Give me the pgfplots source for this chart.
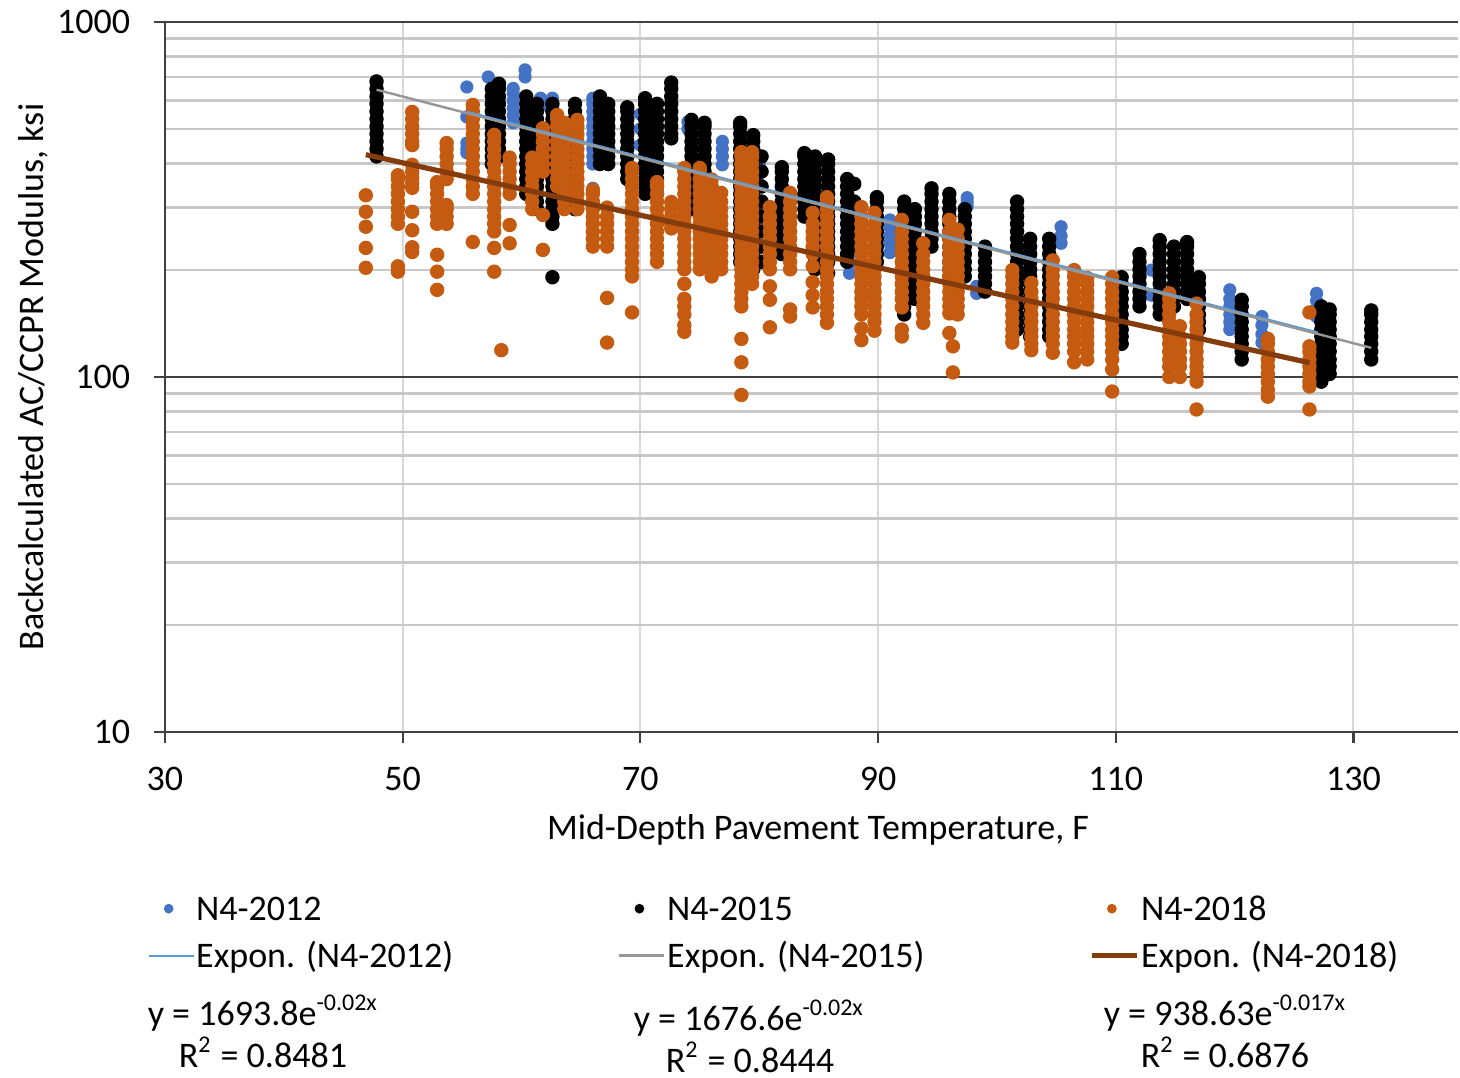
\documentclass[border=0pt]{standalone}
\usepackage{fontspec}
\setmainfont{Carlito}
\usepackage{pgfplots}
\pgfplotsset{compat=1.18}
\definecolor{cblue}{RGB}{68,114,196}
\definecolor{corange}{RGB}{197,90,17}
\definecolor{tblue}{RGB}{91,155,213}
\definecolor{tgrey}{RGB}{150,150,150}
\definecolor{tbrown}{RGB}{132,60,12}
\definecolor{axdark}{RGB}{64,64,64}
\definecolor{vgrid}{RGB}{217,217,217}
\definecolor{hgrid}{RGB}{200,200,200}
\pgfplotsset{
 dotleg/.style={legend image code/.code={\path[draw=none, fill=none] (0pt,-1pt) rectangle (11.25pt,1pt); \draw[##1, mark size=1pt] plot coordinates {(5pt,0pt)};}},
 lineleg/.style={legend image code/.code={\draw[##1] (0pt,0pt) -- (11.25pt,0pt);}},
}
\begin{document}
\begin{tikzpicture}[font=\fontsize{9}{11}\selectfont]
\begin{axis}[
 scale only axis, width=323.25pt, height=177.5pt,
 xmin=30, xmax=138.8, ymin=10, ymax=1000, ymode=log,
 axis x line*=bottom, axis y line*=left,
 axis line style={draw=axdark, line width=0.55pt},
 xtick={30,50,70,90,110,130}, xticklabels={30,50,70,90,110,130},
 ytick={10,100,1000}, yticklabels={10,100,1000},
 minor ytick={20,30,40,50,60,70,80,90,200,300,400,500,600,700,800,900},
 xmajorgrids, ymajorgrids, yminorgrids,
 major x grid style={draw=vgrid, line width=0.5pt},
 major y grid style={draw=axdark, line width=0.55pt},
 minor y grid style={draw=hgrid, line width=0.65pt},
 tick align=outside, major tick length=2.75pt, minor tick length=0pt,
 tick style={draw=axdark, line width=0.55pt},
 xticklabel style={anchor=center, inner sep=0pt, yshift=-9pt},
 yticklabel style={anchor=east, inner sep=0pt, xshift=-5.75pt},
 every axis x label/.style={at={(axis description cs:0.505,-0.138)}, anchor=center},
 every axis y label/.style={at={(axis description cs:-0.1021,0.5)}, anchor=center, rotate=90},
 xlabel={Mid-Depth Pavement Temperature, F},
 ylabel={Backcalculated AC/CCPR Modulus, ksi},
 clip mode=individual,
 legend columns=3,
 legend cell align=left,
 legend style={at={(axis description cs:0,0)}, anchor=north west, xshift=-4.5pt, yshift=-38.1pt,
   draw=none, fill=none, inner sep=0pt, row sep=0pt,
   nodes={inner xsep=0.4pt, inner ysep=0pt, text height=8.75pt, text depth=3pt},
   /tikz/column 2/.style={column sep=40.8pt}, /tikz/column 4/.style={column sep=40.8pt}},
]
% N4-2012
\addplot[only marks, mark=*, color=cblue, mark size=1.45pt, mark options={draw=none}, dotleg] coordinates {
(55.4,428)(55.4,440)(55.4,456)(55.4,540)(55.4,656)
(57.2,700)
(59.3,520)(59.3,545)(59.3,572)(59.3,600)(59.3,630)(59.3,650)
(60.3,700)(60.3,733)
(61.6,580)(61.6,610)(62.6,610)
(66.0,340)(66.0,398)(66.0,418)(66.0,439)(66.0,461)(66.0,484)(66.0,508)(66.0,533)(66.0,560)(66.0,588)(66.0,610)
(66.3,506)(66.3,540)(66.3,570)(66.3,603)
(70.0,450)(70.0,500)(70.0,550)
(74.0,500)(74.0,523)
(76.9,396)(76.9,418)(76.9,439)(76.9,461)
(80.0,300)(80.0,350)(80.0,400)
(84.5,280)(84.5,320)
(87.6,196)(87.6,209)(87.6,222)
(91.0,224)(91.0,238)(91.0,250)(91.0,264)(91.0,277)
(93.0,230)(93.0,270)
(97.5,302)(97.5,311)(97.5,320)
(98.3,172)(98.3,180)
(102.0,190)(102.0,230)
(105.4,238)(105.4,250)(105.4,265)
(113.0,170)(113.0,200)
(119.6,136)(119.6,143)(119.6,150)(119.6,158)(119.6,166)(119.6,176)
(122.3,125)(122.3,132)(122.3,140)(122.3,148)
(126.9,148)(126.9,156)(126.9,164)(126.9,172)
(128.0,125)(128.0,140)
};
\addlegendentry{N4-2012}
% N4-2015
\addplot[only marks, mark=*, color=black, mark size=1.6pt, mark options={draw=none}, dotleg] coordinates {
(47.8,418)(47.8,439)(47.8,461)(47.8,484)(47.8,508)(47.8,533)(47.8,560)(47.8,588)(47.8,617)(47.8,648)(47.8,680)
(57.5,398)(57.5,418)(57.5,439)(57.5,461)(57.5,484)(57.5,508)(57.5,533)(57.5,560)(57.5,588)(57.5,617)(57.5,648)
(58.1,418)(58.1,439)(58.1,461)(58.1,484)(58.1,508)(58.1,533)(58.1,560)(58.1,588)(58.1,617)(58.1,648)(58.1,670)
(60.4,328)(60.4,344)(60.4,361)(60.4,379)(60.4,398)(60.4,418)(60.4,439)(60.4,461)(60.4,484)(60.4,508)(60.4,533)(60.4,560)(60.4,588)(60.4,617)
(61.3,297)(61.3,312)(61.3,328)(61.3,344)(61.3,361)(61.3,379)(61.3,398)(61.3,418)(61.3,439)(61.3,461)(61.3,484)(61.3,508)(61.3,533)(61.3,560)(61.3,588)
(62.6,191)(62.6,270)(62.6,283)(62.6,297)(62.6,312)(62.6,328)(62.6,344)(62.6,361)(62.6,379)(62.6,398)(62.6,418)(62.6,439)(62.6,461)(62.6,484)(62.6,508)(62.6,533)(62.6,560)(62.6,588)
(64.5,297)(64.5,312)(64.5,328)(64.5,344)(64.5,361)(64.5,379)(64.5,398)(64.5,418)(64.5,439)(64.5,461)(64.5,484)(64.5,508)(64.5,533)(64.5,560)(64.5,588)
(66.6,398)(66.6,418)(66.6,439)(66.6,461)(66.6,484)(66.6,508)(66.6,533)(66.6,560)(66.6,588)(66.6,617)
(67.3,398)(67.3,418)(67.3,439)(67.3,461)(67.3,484)(67.3,508)(67.3,533)(67.3,560)(67.3,588)
(68.9,361)(68.9,379)(68.9,398)(68.9,418)(68.9,439)(68.9,461)(68.9,484)(68.9,508)(68.9,533)(68.9,560)(68.9,575)
(70.4,328)(70.4,344)(70.4,361)(70.4,379)(70.4,398)(70.4,418)(70.4,439)(70.4,461)(70.4,484)(70.4,508)(70.4,533)(70.4,560)(70.4,588)(70.4,610)
(71.4,328)(71.4,344)(71.4,361)(71.4,379)(71.4,398)(71.4,418)(71.4,439)(71.4,461)(71.4,484)(71.4,508)(71.4,533)(71.4,560)(71.4,588)
(72.6,470)(72.6,484)(72.6,508)(72.6,533)(72.6,560)(72.6,588)(72.6,617)(72.6,648)(72.6,675)
(74.3,297)(74.3,312)(74.3,328)(74.3,344)(74.3,361)(74.3,379)(74.3,398)(74.3,418)(74.3,439)(74.3,461)(74.3,484)(74.3,508)(74.3,530)
(75.4,283)(75.4,297)(75.4,312)(75.4,328)(75.4,344)(75.4,361)(75.4,379)(75.4,398)(75.4,418)(75.4,439)(75.4,461)(75.4,484)(75.4,508)(75.4,520)
(78.4,211)(78.4,222)(78.4,233)(78.4,245)(78.4,257)(78.4,270)(78.4,283)(78.4,297)(78.4,312)(78.4,328)(78.4,344)(78.4,361)(78.4,379)(78.4,398)(78.4,418)(78.4,439)(78.4,461)(78.4,484)(78.4,508)(78.4,520)
(79.5,201)(79.5,211)(79.5,222)(79.5,233)(79.5,245)(79.5,257)(79.5,270)(79.5,283)(79.5,297)(79.5,312)(79.5,328)(79.5,344)(79.5,361)(79.5,379)(79.5,398)(79.5,418)(79.5,439)(79.5,461)(79.5,480)
(80.2,211)(80.2,233)(80.2,257)(80.2,283)(80.2,312)(80.2,344)(80.2,379)(80.2,418)
(81.9,222)(81.9,233)(81.9,245)(81.9,257)(81.9,270)(81.9,283)(81.9,297)(81.9,312)(81.9,328)(81.9,344)(81.9,361)(81.9,379)(81.9,390)
(83.8,283)(83.8,297)(83.8,312)(83.8,328)(83.8,344)(83.8,361)(83.8,379)(83.8,398)(83.8,418)(83.8,427)
(84.7,201)(84.7,211)(84.7,222)(84.7,233)(84.7,245)(84.7,257)(84.7,270)(84.7,283)(84.7,297)(84.7,312)(84.7,328)(84.7,344)(84.7,361)(84.7,379)(84.7,398)(84.7,418)
(85.8,196)(85.8,211)(85.8,222)(85.8,233)(85.8,245)(85.8,257)(85.8,270)(85.8,283)(85.8,297)(85.8,312)(85.8,328)(85.8,344)(85.8,361)(85.8,379)(85.8,398)(85.8,410)
(87.4,211)(87.4,222)(87.4,233)(87.4,245)(87.4,257)(87.4,270)(87.4,283)(87.4,297)(87.4,312)(87.4,328)(87.4,344)(87.4,361)
(88.0,233)(88.0,257)(88.0,283)(88.0,312)(88.0,350)
(89.9,211)(89.9,222)(89.9,233)(89.9,245)(89.9,257)(89.9,270)(89.9,283)(89.9,297)(89.9,312)(89.9,321)
(92.2,150)(92.2,158)(92.2,166)(92.2,174)(92.2,183)(92.2,192)(92.2,201)(92.2,211)(92.2,222)(92.2,233)(92.2,245)(92.2,257)(92.2,270)(92.2,283)(92.2,297)(92.2,312)
(93.1,166)(93.1,174)(93.1,183)(93.1,192)(93.1,201)(93.1,211)(93.1,222)(93.1,233)(93.1,245)(93.1,257)(93.1,270)(93.1,283)(93.1,297)
(94.5,233)(94.5,245)(94.5,257)(94.5,270)(94.5,283)(94.5,297)(94.5,312)(94.5,328)(94.5,340)
(96.0,192)(96.0,201)(96.0,211)(96.0,222)(96.0,233)(96.0,245)(96.0,257)(96.0,270)(96.0,283)(96.0,297)(96.0,312)(96.0,328)
(97.3,192)(97.3,201)(97.3,211)(97.3,222)(97.3,233)(97.3,245)(97.3,257)(97.3,270)(97.3,283)(97.3,297)
(99.0,174)(99.0,183)(99.0,192)(99.0,201)(99.0,211)(99.0,222)(99.0,233)
(101.7,136)(101.7,143)(101.7,150)(101.7,158)(101.7,166)(101.7,174)(101.7,183)(101.7,192)(101.7,201)(101.7,211)(101.7,222)(101.7,233)(101.7,245)(101.7,257)(101.7,270)(101.7,283)(101.7,297)(101.7,312)
(102.8,130)(102.8,136)(102.8,143)(102.8,150)(102.8,158)(102.8,166)(102.8,174)(102.8,183)(102.8,192)(102.8,201)(102.8,211)(102.8,222)(102.8,233)(102.8,245)
(104.4,130)(104.4,136)(104.4,143)(104.4,150)(104.4,158)(104.4,166)(104.4,174)(104.4,183)(104.4,192)(104.4,201)(104.4,211)(104.4,222)(104.4,233)(104.4,245)
(110.5,124)(110.5,130)(110.5,136)(110.5,143)(110.5,150)(110.5,158)(110.5,166)(110.5,174)(110.5,183)(110.5,191)
(112.0,158)(112.0,166)(112.0,174)(112.0,183)(112.0,192)(112.0,201)(112.0,211)(112.0,222)
(113.7,150)(113.7,158)(113.7,166)(113.7,174)(113.7,183)(113.7,192)(113.7,201)(113.7,211)(113.7,222)(113.7,233)(113.7,243)
(114.9,158)(114.9,166)(114.9,174)(114.9,183)(114.9,192)(114.9,201)(114.9,211)(114.9,222)(114.9,233)
(116.0,166)(116.0,174)(116.0,183)(116.0,192)(116.0,201)(116.0,211)(116.0,222)(116.0,233)(116.0,240)
(117.0,136)(117.0,143)(117.0,150)(117.0,158)(117.0,166)(117.0,174)(117.0,183)(117.0,191)
(120.6,112)(120.6,118)(120.6,124)(120.6,130)(120.6,136)(120.6,143)(120.6,150)(120.6,158)(120.6,165)
(127.3,97)(127.3,102)(127.3,107)(127.3,112)(127.3,118)(127.3,124)(127.3,130)(127.3,136)(127.3,143)(127.3,150)(127.3,158)
(128.0,102)(128.0,107)(128.0,112)(128.0,118)(128.0,124)(128.0,130)(128.0,136)(128.0,143)(128.0,150)(128.0,155)
(131.5,112)(131.5,118)(131.5,124)(131.5,130)(131.5,136)(131.5,143)(131.5,150)(131.5,154)
};
\addlegendentry{N4-2015}
% N4-2018
\addplot[only marks, mark=*, color=corange, mark size=1.6pt, mark options={draw=none}, dotleg] coordinates {
(46.9,203)(46.9,231)(46.9,265)(46.9,292)(46.9,325)
(49.6,198)(49.6,205)(49.6,270)(49.6,283)(49.6,297)(49.6,312)(49.6,328)(49.6,344)(49.6,361)(49.6,370)
(50.8,225)(50.8,232)(50.8,259)(50.8,292)(50.8,341)(50.8,352)(50.8,364)(50.8,379)(50.8,396)(50.8,450)(50.8,461)(50.8,484)(50.8,508)(50.8,533)(50.8,558)
(52.9,176)(52.9,198)(52.9,221)(52.9,270)(52.9,283)(52.9,297)(52.9,312)(52.9,328)(52.9,344)(52.9,354)
(53.7,270)(53.7,283)(53.7,297)(53.7,305)(53.7,361)(53.7,379)(53.7,398)(53.7,418)(53.7,439)(53.7,456)
(55.9,240)(55.9,328)(55.9,344)(55.9,361)(55.9,379)(55.9,398)(55.9,418)(55.9,439)(55.9,461)(55.9,484)(55.9,508)(55.9,533)(55.9,560)(55.9,584)
(57.7,198)(57.7,231)(57.7,257)(57.7,270)(57.7,283)(57.7,297)(57.7,312)(57.7,328)(57.7,344)(57.7,361)(57.7,379)(57.7,398)(57.7,418)(57.7,439)(57.7,461)(57.7,481)
(58.3,119)
(59.0,238)(59.0,268)(59.0,328)(59.0,344)(59.0,361)(59.0,379)(59.0,398)(59.0,415)
(60.9,297)(60.9,312)(60.9,328)(60.9,344)(60.9,361)(60.9,379)(60.9,398)(60.9,415)
(61.8,228)(61.8,286)(61.8,379)(61.8,398)(61.8,418)(61.8,439)(61.8,461)(61.8,484)(61.8,502)
(63.0,344)(63.0,361)(63.0,379)(63.0,398)(63.0,418)(63.0,439)(63.0,461)(63.0,484)(63.0,508)(63.0,533)(63.0,547)
(63.6,297)(63.6,312)(63.6,328)(63.6,344)(63.6,361)(63.6,379)(63.6,398)(63.6,418)(63.6,439)(63.6,461)(63.6,484)(63.6,508)(63.6,520)
(64.7,297)(64.7,312)(64.7,328)(64.7,344)(64.7,361)(64.7,379)(64.7,398)(64.7,418)(64.7,439)(64.7,461)(64.7,484)(64.7,508)(64.7,530)
(66.0,233)(66.0,245)(66.0,257)(66.0,270)(66.0,283)(66.0,297)(66.0,312)(66.0,328)(66.0,336)
(67.2,125)(67.2,167)(67.2,233)(67.2,245)(67.2,257)(67.2,270)(67.2,283)(67.2,300)
(69.3,152)(69.3,192)(69.3,201)(69.3,211)(69.3,222)(69.3,233)(69.3,245)(69.3,257)(69.3,270)(69.3,283)(69.3,297)(69.3,312)(69.3,328)(69.3,344)(69.3,361)(69.3,379)(69.3,388)
(71.4,211)(71.4,222)(71.4,233)(71.4,245)(71.4,257)(71.4,270)(71.4,283)(71.4,297)(71.4,312)(71.4,328)(71.4,344)(71.4,354)
(72.6,262)(72.6,270)(72.6,283)(72.6,297)(72.6,311)
(73.7,134)(73.7,140)(73.7,150)(73.7,158)(73.7,166)(73.7,183)(73.7,201)(73.7,211)(73.7,222)(73.7,233)(73.7,245)(73.7,257)(73.7,270)(73.7,283)(73.7,297)(73.7,312)(73.7,328)(73.7,344)(73.7,361)(73.7,379)(73.7,388)
(75.0,201)(75.0,211)(75.0,222)(75.0,233)(75.0,245)(75.0,257)(75.0,270)(75.0,283)(75.0,297)(75.0,312)(75.0,328)(75.0,344)(75.0,361)(75.0,379)(75.0,388)
(76.0,192)(76.0,201)(76.0,211)(76.0,222)(76.0,233)(76.0,245)(76.0,257)(76.0,270)(76.0,283)(76.0,297)(76.0,312)(76.0,328)(76.0,344)(76.0,360)
(76.8,201)(76.8,211)(76.8,222)(76.8,233)(76.8,245)(76.8,257)(76.8,270)(76.8,283)(76.8,297)(76.8,312)(76.8,330)
(78.5,89)(78.5,110)(78.5,128)(78.5,158)(78.5,166)(78.5,174)(78.5,183)(78.5,192)(78.5,201)(78.5,211)(78.5,222)(78.5,233)(78.5,245)(78.5,257)(78.5,270)(78.5,283)(78.5,297)(78.5,312)(78.5,328)(78.5,344)(78.5,361)(78.5,379)(78.5,398)(78.5,418)(78.5,430)
(79.4,183)(79.4,192)(79.4,201)(79.4,211)(79.4,222)(79.4,233)(79.4,245)(79.4,257)(79.4,270)(79.4,283)(79.4,297)(79.4,312)(79.4,328)(79.4,344)(79.4,361)(79.4,379)(79.4,398)(79.4,418)(79.4,430)
(80.9,138)(80.9,165)(80.9,180)(80.9,201)(80.9,211)(80.9,222)(80.9,233)(80.9,245)(80.9,257)(80.9,270)(80.9,283)(80.9,301)
(82.6,148)(82.6,155)(82.6,201)(82.6,211)(82.6,222)(82.6,233)(82.6,245)(82.6,257)(82.6,270)(82.6,283)(82.6,297)(82.6,312)(82.6,330)
(84.5,157)(84.5,170)(84.5,185)(84.5,205)(84.5,222)(84.5,233)(84.5,245)(84.5,257)(84.5,270)(84.5,290)
(85.7,142)(85.7,150)(85.7,158)(85.7,166)(85.7,174)(85.7,183)(85.7,192)(85.7,201)(85.7,211)(85.7,222)(85.7,233)(85.7,245)(85.7,257)(85.7,270)(85.7,283)(85.7,297)(85.7,312)(85.7,321)
(88.6,127)(88.6,137)(88.6,150)(88.6,158)(88.6,166)(88.6,174)(88.6,183)(88.6,192)(88.6,201)(88.6,211)(88.6,222)(88.6,233)(88.6,245)(88.6,257)(88.6,270)(88.6,283)(88.6,301)
(89.7,135)(89.7,143)(89.7,150)(89.7,158)(89.7,166)(89.7,174)(89.7,183)(89.7,192)(89.7,201)(89.7,211)(89.7,222)(89.7,233)(89.7,245)(89.7,257)(89.7,270)(89.7,290)
(92.0,130)(92.0,136)(92.0,157)(92.0,166)(92.0,174)(92.0,183)(92.0,192)(92.0,201)(92.0,211)(92.0,222)(92.0,233)(92.0,245)(92.0,257)(92.0,277)
(93.8,142)(93.8,150)(93.8,158)(93.8,166)(93.8,174)(93.8,183)(93.8,192)(93.8,201)(93.8,211)(93.8,222)(93.8,238)
(96.0,133)(96.0,151)(96.0,158)(96.0,166)(96.0,174)(96.0,183)(96.0,192)(96.0,201)(96.0,211)(96.0,222)(96.0,233)(96.0,245)(96.0,257)(96.0,277)
(96.7,150)(96.7,158)(96.7,166)(96.7,174)(96.7,183)(96.7,192)(96.7,201)(96.7,211)(96.7,222)(96.7,233)(96.7,245)(96.7,260)
(96.3,103)(96.3,122)
(101.3,125)(101.3,130)(101.3,136)(101.3,143)(101.3,150)(101.3,158)(101.3,166)(101.3,174)(101.3,183)(101.3,192)(101.3,200)
(102.9,119)(102.9,124)(102.9,130)(102.9,136)(102.9,143)(102.9,150)(102.9,158)(102.9,166)(102.9,174)(102.9,184)
(104.7,117)(104.7,124)(104.7,130)(104.7,136)(104.7,143)(104.7,150)(104.7,158)(104.7,166)(104.7,174)(104.7,183)(104.7,192)(104.7,201)(104.7,213)
(106.5,110)(106.5,118)(106.5,124)(106.5,130)(106.5,136)(106.5,143)(106.5,150)(106.5,158)(106.5,166)(106.5,174)(106.5,183)(106.5,192)(106.5,200)
(107.6,112)(107.6,118)(107.6,124)(107.6,130)(107.6,136)(107.6,143)(107.6,150)(107.6,158)(107.6,166)(107.6,174)(107.6,183)(107.6,190)
(109.7,91)(109.7,105)(109.7,112)(109.7,118)(109.7,124)(109.7,130)(109.7,136)(109.7,143)(109.7,150)(109.7,158)(109.7,166)(109.7,174)(109.7,183)(109.7,191)
(114.5,100)(114.5,107)(114.5,112)(114.5,118)(114.5,124)(114.5,130)(114.5,136)(114.5,143)(114.5,150)(114.5,158)(114.5,166)(114.5,172)
(115.4,100)(115.4,107)(115.4,112)(115.4,118)(115.4,124)(115.4,130)(115.4,139)
(116.8,81)(116.8,97)(116.8,102)(116.8,107)(116.8,112)(116.8,118)(116.8,124)(116.8,130)(116.8,136)(116.8,143)(116.8,150)(116.8,161)
(122.8,88)(122.8,92)(122.8,97)(122.8,102)(122.8,107)(122.8,112)(122.8,118)(122.8,124)(122.8,128)
(126.3,81)(126.3,94)(126.3,97)(126.3,102)(126.3,107)(126.3,112)(126.3,118)(126.3,122)(126.3,152)
};
\addlegendentry{N4-2018}
% trend lines
\addplot[tblue, line width=0.45pt, lineleg] coordinates {(55.4,559.4)(127,133.6)};
\addlegendentry{Expon. (N4-2012)}
\addplot[tgrey, line width=0.6pt, lineleg] coordinates {(47.8,644.5)(131.5,120.8)};
\addlegendentry{Expon. (N4-2015)}
\addplot[tbrown, line width=1.3pt, lineleg] coordinates {(46.9,422.9)(126.3,109.7)};
\addlegendentry{Expon. (N4-2018)}
\coordinate (sw) at (rel axis cs:0,0);
\node[anchor=base west, inner sep=0pt, xshift=-4.5pt, yshift=-73.5pt] at (axis description cs:0,0) {y = 1693.8e\textsuperscript{-0.02x}};
\node[anchor=base west, inner sep=0pt, xshift=3.25pt, yshift=-84pt] at (axis description cs:0,0) {R\textsuperscript{2} = 0.8481};
\node[anchor=base west, inner sep=0pt, xshift=117pt, yshift=-74.75pt] at (axis description cs:0,0) {y = 1676.6e\textsuperscript{-0.02x}};
\node[anchor=base west, inner sep=0pt, xshift=125pt, yshift=-85.25pt] at (axis description cs:0,0) {R\textsuperscript{2} = 0.8444};
\node[anchor=base west, inner sep=0pt, xshift=234.5pt, yshift=-73.5pt] at (axis description cs:0,0) {y = 938.63e\textsuperscript{-0.017x}};
\node[anchor=base west, inner sep=0pt, xshift=243.75pt, yshift=-84pt] at (axis description cs:0,0) {R\textsuperscript{2} = 0.6876};
\end{axis}
\path (sw) ++(-41.25pt,-86.5pt) rectangle ++(365pt,269.5pt);
\end{tikzpicture}
\end{document}
